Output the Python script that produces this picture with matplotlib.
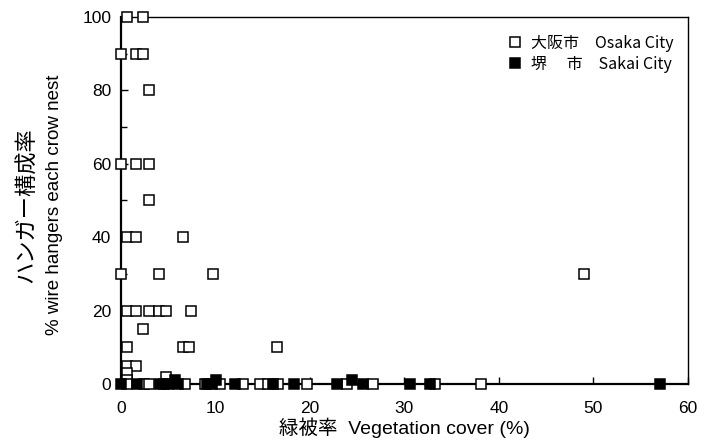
import matplotlib
matplotlib.use('Agg')
import matplotlib.pyplot as plt
from matplotlib.ticker import MultipleLocator

plt.rcParams['font.family'] = ['Liberation Sans', 'Noto Sans CJK JP', 'DejaVu Sans']

# Osaka City (open squares): vegetation cover %, wire-hanger %
osaka_x = [0.6, 2.3, 0.0, 1.6, 2.3, 3.0, 0.0, 1.6, 3.0, 3.0,
           0.6, 1.6, 6.6, 0.0, 4.0, 9.7, 49.0,
           0.6, 1.6, 3.0, 4.0, 4.8, 7.4, 2.3,
           0.6, 6.6, 7.2, 16.5, 0.6, 1.6, 0.6, 4.8, 0.6,
           0.6, 2.4, 3.0, 6.8, 8.9, 10.5, 12.9, 14.7, 15.6, 16.6,
           19.7, 23.9, 26.7, 33.2, 38.1]
osaka_y = [100, 100, 90, 90, 90, 80, 60, 60, 60, 50,
           40, 40, 40, 30, 30, 30, 30,
           20, 20, 20, 20, 20, 20, 15,
           10, 10, 10, 10, 5, 5, 3, 2, 1,
           0, 0, 0, 0, 0, 0, 0, 0, 0, 0,
           0, 0, 0, 0, 0]

# Sakai City (filled squares)
sakai_x = [0.0, 1.7, 4.1, 4.5, 5.0, 5.7, 6.0, 9.1, 9.6, 10.1, 12.1,
           16.1, 18.3, 22.9, 24.4, 25.6, 30.6, 32.7, 57.1]
sakai_y = [0, 0, 0, 0, 0, 1, 0, 0, 0, 1, 0,
           0, 0, 0, 1, 0, 0, 0, 0]

fig = plt.figure(figsize=(7.04, 4.46), dpi=100)
ax = fig.add_axes([0.172, 0.139, 0.805, 0.823])

ax.plot(osaka_x, osaka_y, 's', ms=6.8, mfc='white', mec='black', mew=1.1,
        linestyle='none', clip_on=False, zorder=3, label='大阪市　Osaka City')
ax.plot(sakai_x, sakai_y, 's', ms=6.8, mfc='black', mec='black', mew=1.1,
        linestyle='none', clip_on=False, zorder=4, label='堺　 市　Sakai City')

ax.set_xlim(0, 60)
ax.set_ylim(0, 100)
ax.xaxis.set_major_locator(MultipleLocator(10))
ax.yaxis.set_major_locator(MultipleLocator(20))
ax.yaxis.set_minor_locator(MultipleLocator(10))
ax.tick_params(which='both', direction='in', labelsize=12.5)
ax.tick_params(axis='x', pad=12)
ax.tick_params(axis='y', pad=7)
ax.tick_params(which='major', length=5, width=1)
ax.tick_params(which='minor', length=4, width=1)

ax.spines['left'].set_linewidth(1.6)
ax.spines['bottom'].set_linewidth(1.6)
ax.spines['top'].set_linewidth(1.0)
ax.spines['right'].set_linewidth(1.0)

ax.set_xlabel('緑被率  Vegetation cover (%)', fontsize=14,
              family=['Liberation Sans', 'Noto Sans CJK JP'], labelpad=1)
fig.text(0.037, 0.54, 'ハンガー構成率', rotation=90, fontsize=16,
         ha='center', va='center', family=['Noto Sans CJK JP'])
fig.text(0.077, 0.54, '% wire hangers each crow nest', rotation=90, fontsize=13.5,
         ha='center', va='center')

leg = ax.legend(loc='upper right', bbox_to_anchor=(1.0, 0.99), frameon=False,
                prop={'family': ['Noto Sans CJK JP'], 'size': 11.5},
                handletextpad=0.5, labelspacing=0.25, handlelength=1.0)

fig.savefig('out.png', dpi=100)
